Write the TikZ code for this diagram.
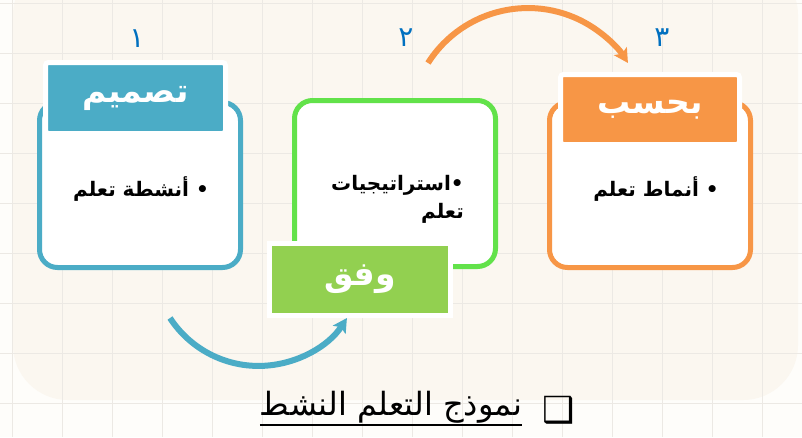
\documentclass[tikz,border=0pt]{standalone}
\usepackage{fontspec}
\usetikzlibrary{arrows.meta}
\TeXXeTstate=1
\newfontfamily\arabicfont[Script=Arabic]{DejaVu Sans}
\newfontfamily\symfont{DejaVu Sans}
\definecolor{bgout}{HTML}{FEFDFA}
\definecolor{panel}{HTML}{FBF7F0}
\definecolor{gridc}{HTML}{ECE9E4}
\definecolor{cblue}{HTML}{4BACC6}
\definecolor{cgreen}{HTML}{62E24A}
\definecolor{lgreen}{HTML}{92D050}
\definecolor{corange}{HTML}{F79646}
\definecolor{numblue}{HTML}{0070C0}
\begin{document}
\begin{tikzpicture}[x=1pt,y=-1pt,
  boxframe/.style={draw=#1, line width=5pt, rounded corners=18pt, fill=white,
    minimum width=201pt, minimum height=165pt, inner sep=0pt},
  headbox/.style={draw=white, line width=5pt, fill=#1, rounded corners=3pt,
    minimum width=180pt, minimum height=71pt, inner sep=0pt, text=white,
    font=\arabicfont\bfseries\fontsize{33}{36}\selectfont},
  bodytxt/.style={font=\arabicfont\bfseries\fontsize{20}{28}\selectfont, align=right, inner sep=0pt},
  numtxt/.style={text=numblue, font=\arabicfont\fontsize{28}{30}\selectfont, inner sep=0pt},
  bigarrow/.style={line width=6pt, draw=#1, -{Stealth[length=14pt,width=15pt,inset=3pt]}}
]
\useasboundingbox (0,0) rectangle (802,437);
% background
\fill[bgout] (0,0) rectangle (802,437);
\fill[panel, rounded corners=55pt] (13,-40) rectangle (798,400);
\foreach \gx in {12,62,...,812} \draw[gridc, line width=1pt] (\gx,0) -- (\gx,437);
\foreach \gy in {3,53,...,437} \draw[gridc, line width=1pt] (0,\gy) -- (802,\gy);

% boxes
\node[boxframe=cblue] (b1) at (140,185) {};
\node[boxframe=cgreen, minimum height=166pt] (b2) at (395,183.5) {};
\node[boxframe=corange] (b3) at (650,185) {};

% headers
\node[headbox=cblue] (h1) at (135.5,98) {\beginR تصميم\endR};
\node[headbox=corange, minimum width=179pt, minimum height=70pt] (h3) at (650,109.5) {\beginR بحسب\endR};
\node[headbox=lgreen, rounded corners=0pt, minimum width=181pt, minimum height=72pt] (h2) at (360,279.5) {\beginR وفق\endR};

% body texts
\node[bodytxt] (t1) at (141,189) {\beginR • أنشطة تعلم\endR};
\node[bodytxt, anchor=east] (t2) at (464,199) {\beginR •استراتيجيات\endR\\\beginR تعلم\endR};
\node[bodytxt] (t3) at (656,189) {\beginR • أنماط تعلم\endR};

% numbers
\node[numtxt] (n1) at (137,39) {\beginR ١\endR};
\node[numtxt] (n2) at (406,38) {\beginR ٢\endR};
\node[numtxt] (n3) at (662,38) {\beginR ٣\endR};

% arrows
\coordinate (oa) at (428,63);
\coordinate (ba) at (170,318);
\draw[bigarrow=corange] (oa) arc[start angle=212.4, end angle=327.6, radius=118.4];
\draw[bigarrow=cblue] (ba) arc[start angle=146.9, end angle=33.1, radius=105.6];

% title
\node[font=\arabicfont\fontsize{32}{36}\selectfont, inner sep=0pt] (title) at (391,407) {\beginR نموذج التعلم النشط\endR};
\draw[line width=1.6pt] ([yshift=-2pt]title.south west) -- ([yshift=-2pt]title.south east);
\node[font=\symfont\fontsize{36}{38}\selectfont, inner sep=0pt] (sym) at (559,410) {❑};
\end{tikzpicture}
\end{document}
